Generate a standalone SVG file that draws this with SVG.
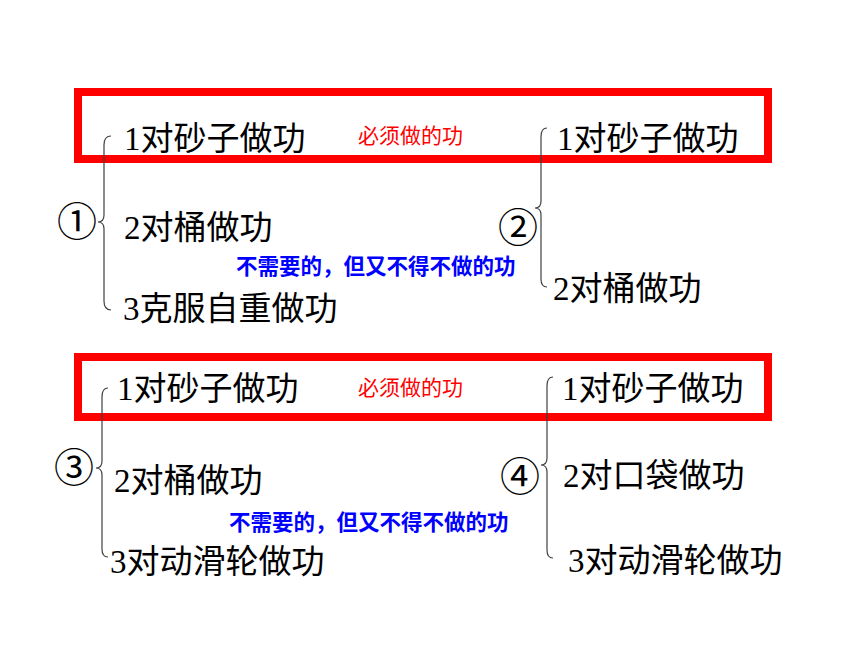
<svg xmlns="http://www.w3.org/2000/svg" width="860" height="645" viewBox="0 0 860 645">
<style>
.box{fill:none;stroke:#FF0000;stroke-width:8}
.t{font-family:"Liberation Serif","Noto Sans CJK SC",sans-serif;font-size:33px;fill:#000}
.c{font-family:"Noto Sans CJK SC",sans-serif;font-size:40px;fill:#000}
.r{font-family:"Noto Sans CJK SC",sans-serif;font-size:21px;fill:#FF0000}
.b{font-family:"Noto Sans CJK SC",sans-serif;font-size:21.5px;font-weight:bold;fill:#0000FF}
.br{fill:none;stroke:#404040;stroke-width:1.2}
</style>
<rect width="860" height="645" fill="#fff"/>
<g id="box1"><rect class="box" x="78" y="92" width="690" height="67"/></g>
<g id="box2"><rect class="box" x="78" y="357" width="690" height="60"/></g>
<g id="connectors">
<path class="br" d="M111,136 Q104,136 104,145 L104,215 Q104,222 98,222 Q104,222 104,229 L104,301 Q104,310 111,310"/>
<path class="br" d="M547,128 Q541,128 541,137 L541,201 Q541,208 535,208 Q541,208 541,215 L541,279 Q541,287 547,287"/>
<path class="br" d="M108,388 Q102,388 102,397 L102,461 Q102,468 96,468 Q102,468 102,475 L102,549 Q102,557 108,557"/>
<path class="br" d="M553,377 Q547,377 547,386 L547,458 Q547,465 541,465 Q547,465 547,472 L547,550 Q547,558 553,558"/>
</g>
<g id="group1">
<text class="c" x="57" y="236">①</text>
<text class="t" x="124" y="150">1对砂子做功</text>
<text class="t" x="124" y="239">2对桶做功</text>
<text class="t" x="123" y="320">3克服自重做功</text>
<text class="r" x="358" y="143">必须做的功</text>
<text class="b" x="236" y="274">不需要的，但又不得不做的功</text>
</g>
<g id="group2">
<text class="c" x="498" y="242">②</text>
<text class="t" x="557" y="150">1对砂子做功</text>
<text class="t" x="553" y="300">2对桶做功</text>
</g>
<g id="group3">
<text class="c" x="54" y="482">③</text>
<text class="t" x="117" y="400">1对砂子做功</text>
<text class="t" x="114" y="492">2对桶做功</text>
<text class="t" x="110" y="573">3对动滑轮做功</text>
<text class="r" x="358" y="395">必须做的功</text>
<text class="b" x="229" y="530">不需要的，但又不得不做的功</text>
</g>
<g id="group4">
<text class="c" x="500" y="491">④</text>
<text class="t" x="562" y="400">1对砂子做功</text>
<text class="t" x="563" y="487">2对口袋做功</text>
<text class="t" x="568" y="572">3对动滑轮做功</text>
</g>
</svg>
